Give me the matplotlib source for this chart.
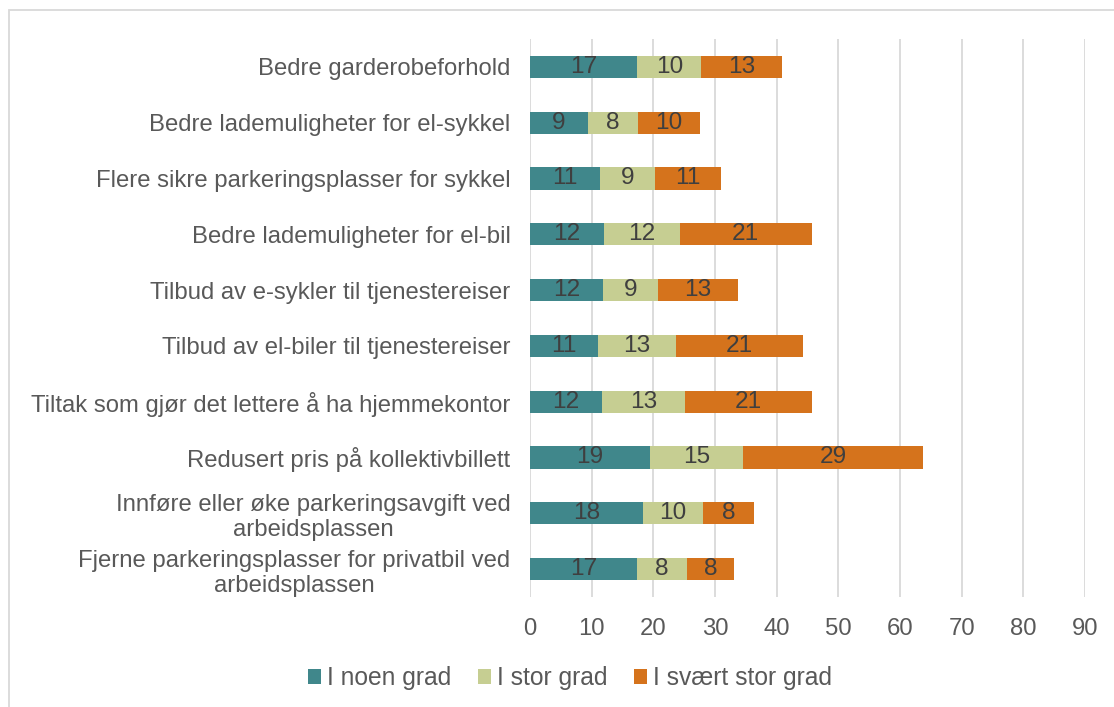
"""
Stacked horizontal bars: how much each measure would help (share of respondents).
"""

import matplotlib
matplotlib.use("Agg")
import matplotlib.pyplot as plt
import numpy as np
from matplotlib.patches import Rectangle

categories = [
    "Bedre garderobeforhold",
    "Bedre lademuligheter for el-sykkel",
    "Flere sikre parkeringsplasser for sykkel",
    "Bedre lademuligheter for el-bil",
    "Tilbud av e-sykler til tjenestereiser",
    "Tilbud av el-biler til tjenestereiser",
    "Tiltak som gjør det lettere å ha hjemmekontor",
    "Redusert pris på kollektivbillett",
    "Innføre eller øke parkeringsavgift ved\narbeidsplassen",
    "Fjerne parkeringsplasser for privatbil ved\narbeidsplassen",
]
noen_grad = [17.4, 9.4, 11.3, 12.0, 11.8, 11.0, 11.7, 19.4, 18.3, 17.4]
stor_grad = [10.4, 8.1, 9.0, 12.3, 8.9, 12.6, 13.4, 15.2, 9.7, 8.0]
svaert_stor_grad = [13.0, 10.0, 10.7, 21.4, 13.0, 20.6, 20.7, 29.2, 8.4, 7.7]

series = ["I noen grad", "I stor grad", "I svært stor grad"]
colors = ["#40878B", "#C6CE92", "#D5731C"]

plt.rcParams["font.family"] = ["Liberation Sans", "DejaVu Sans"]
TEXT = "#595959"
FS = 17.2

fig = plt.figure(figsize=(11.14, 7.07), dpi=100)
ax = fig.add_axes([530 / 1114, 1 - 597 / 707, 555 / 1114, 558 / 707])

y = np.arange(len(categories))
left = np.zeros(len(categories))
for name, vals, col in zip(series, [noen_grad, stor_grad, svaert_stor_grad], colors):
    bars = ax.barh(y, vals, left=left, height=0.4, color=col, label=name, zorder=3)
    ax.bar_label(bars, labels=[f"{v:.0f}" for v in vals], label_type="center",
                 fontsize=17.6, color="#3F3F3F")
    left += np.array(vals)

ax.set_ylim(len(categories) - 0.5, -0.5)
ax.set_yticks(y)
ax.set_yticklabels(categories, multialignment="center")
ax.set_xlim(0, 90)
ax.set_xticks(np.arange(0, 91, 10))
ax.tick_params(axis="y", length=0, pad=14, labelsize=FS, labelcolor=TEXT)
ax.tick_params(axis="x", length=0, pad=15, labelsize=FS, labelcolor=TEXT)
ax.grid(axis="x", color="#D9D9D9", lw=1.3, zorder=0)
for s in ax.spines.values():
    s.set_visible(False)

fig.legend(loc="center", bbox_to_anchor=(570 / 1114, 1 - 678 / 707), ncol=3,
           frameon=False, fontsize=17.7, labelcolor=TEXT, handlelength=0.55,
           handleheight=0.55, handletextpad=0.25, columnspacing=1.05)

# chart-area frame
fig.patches.append(Rectangle((9 / 1114, -0.1), 1.2, 1.1 - 10 / 707,
                             transform=fig.transFigure, fill=False,
                             edgecolor="#D9D9D9", lw=1.3))

fig.savefig("out.png", dpi=100)
